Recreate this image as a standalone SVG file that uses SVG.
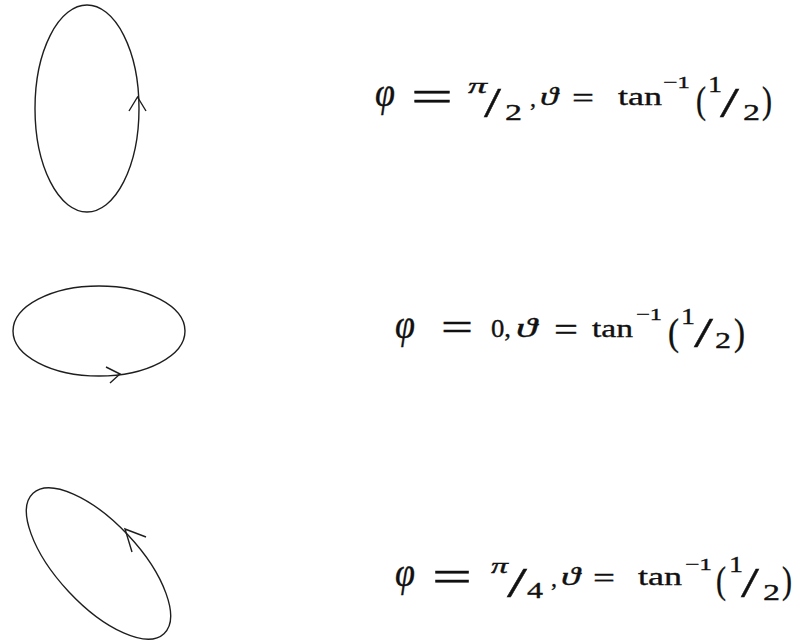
<svg xmlns="http://www.w3.org/2000/svg" width="800" height="642" viewBox="0 0 800 642">
<style>
.c{fill:none;stroke:#1e1e1e;stroke-width:1.4}
.t{font-family:"Liberation Serif","DejaVu Serif",serif;fill:#111;stroke:#111;stroke-width:0.35}
.i{font-style:italic}
</style>
<rect width="800" height="642" fill="#fff"/>
<g id="ellipse1">
<ellipse class="c" cx="87" cy="108.5" rx="52" ry="103.5"/>
<polyline class="c" points="129,111 137.5,97 146,111"/>
</g>
<g id="ellipse2">
<ellipse class="c" cx="99" cy="331" rx="86" ry="45"/>
<polyline class="c" points="106,367 120,374 110,383"/>
</g>
<g id="ellipse3">
<ellipse class="c" cx="98.5" cy="563.5" rx="96" ry="41" transform="rotate(47 98.5 563.5)"/>
<polyline class="c" points="146,537 125,529 132,552"/>
</g>
<g id="label1" class="t">
<text class="i" x="375" y="106" font-size="40" textLength="20" lengthAdjust="spacingAndGlyphs">φ</text>
<text x="411" y="111" font-size="44" textLength="42" lengthAdjust="spacingAndGlyphs">=</text>
<text class="i" x="468" y="93" font-size="22" textLength="19" lengthAdjust="spacingAndGlyphs">π</text>
<text x="484" y="117" font-size="42" textLength="17" lengthAdjust="spacingAndGlyphs">/</text>
<text x="505" y="120" font-size="24" textLength="17" lengthAdjust="spacingAndGlyphs">2</text>
<text x="530" y="106" font-size="24">,</text>
<text class="i" x="540" y="105" font-size="26" textLength="18" lengthAdjust="spacingAndGlyphs">ϑ</text>
<text x="572" y="108" font-size="30" textLength="22" lengthAdjust="spacingAndGlyphs">=</text>
<text x="618" y="105" font-size="25" textLength="44" lengthAdjust="spacingAndGlyphs">tan</text>
<text x="663" y="88" font-size="17" textLength="27" lengthAdjust="spacingAndGlyphs">−1</text>
<text x="696" y="113" font-size="37" textLength="10" lengthAdjust="spacingAndGlyphs">(</text>
<text x="708" y="92" font-size="23" textLength="14" lengthAdjust="spacingAndGlyphs">1</text>
<text x="720" y="117" font-size="42" textLength="19" lengthAdjust="spacingAndGlyphs">/</text>
<text x="743" y="120" font-size="24" textLength="17" lengthAdjust="spacingAndGlyphs">2</text>
<text x="762" y="113" font-size="37" textLength="10" lengthAdjust="spacingAndGlyphs">)</text>
</g>
<g id="label2" class="t">
<text class="i" x="395" y="338" font-size="40" textLength="20" lengthAdjust="spacingAndGlyphs">φ</text>
<text x="441" y="341" font-size="40" textLength="32" lengthAdjust="spacingAndGlyphs">=</text>
<text x="491" y="337" font-size="25" textLength="20" lengthAdjust="spacingAndGlyphs">0,</text>
<text class="i" x="516" y="337" font-size="27" textLength="21" lengthAdjust="spacingAndGlyphs">ϑ</text>
<text x="554" y="341" font-size="34" textLength="24" lengthAdjust="spacingAndGlyphs">=</text>
<text x="592" y="337" font-size="25" textLength="41" lengthAdjust="spacingAndGlyphs">tan</text>
<text x="636" y="320" font-size="17" textLength="26" lengthAdjust="spacingAndGlyphs">−1</text>
<text x="668" y="345" font-size="37" textLength="11" lengthAdjust="spacingAndGlyphs">(</text>
<text x="681" y="324" font-size="23" textLength="14" lengthAdjust="spacingAndGlyphs">1</text>
<text x="694" y="347" font-size="42" textLength="19" lengthAdjust="spacingAndGlyphs">/</text>
<text x="715" y="348" font-size="24" textLength="16" lengthAdjust="spacingAndGlyphs">2</text>
<text x="734" y="345" font-size="37" textLength="11" lengthAdjust="spacingAndGlyphs">)</text>
</g>
<g id="label3" class="t">
<text class="i" x="395" y="586" font-size="40" textLength="20" lengthAdjust="spacingAndGlyphs">φ</text>
<text x="432" y="591" font-size="44" textLength="40" lengthAdjust="spacingAndGlyphs">=</text>
<text class="i" x="491" y="573" font-size="22" textLength="17" lengthAdjust="spacingAndGlyphs">π</text>
<text x="507" y="597" font-size="42" textLength="20" lengthAdjust="spacingAndGlyphs">/</text>
<text x="527" y="598" font-size="24" textLength="16" lengthAdjust="spacingAndGlyphs">4</text>
<text x="551" y="586" font-size="24">,</text>
<text class="i" x="561" y="585" font-size="26" textLength="19" lengthAdjust="spacingAndGlyphs">ϑ</text>
<text x="593" y="588" font-size="30" textLength="22" lengthAdjust="spacingAndGlyphs">=</text>
<text x="638" y="585" font-size="25" textLength="44" lengthAdjust="spacingAndGlyphs">tan</text>
<text x="685" y="570" font-size="17" textLength="27" lengthAdjust="spacingAndGlyphs">−1</text>
<text x="716" y="593" font-size="37" textLength="10" lengthAdjust="spacingAndGlyphs">(</text>
<text x="729" y="572" font-size="23" textLength="14" lengthAdjust="spacingAndGlyphs">1</text>
<text x="741" y="597" font-size="42" textLength="18" lengthAdjust="spacingAndGlyphs">/</text>
<text x="763" y="600" font-size="24" textLength="17" lengthAdjust="spacingAndGlyphs">2</text>
<text x="782" y="593" font-size="37" textLength="10" lengthAdjust="spacingAndGlyphs">)</text>
</g>
</svg>
